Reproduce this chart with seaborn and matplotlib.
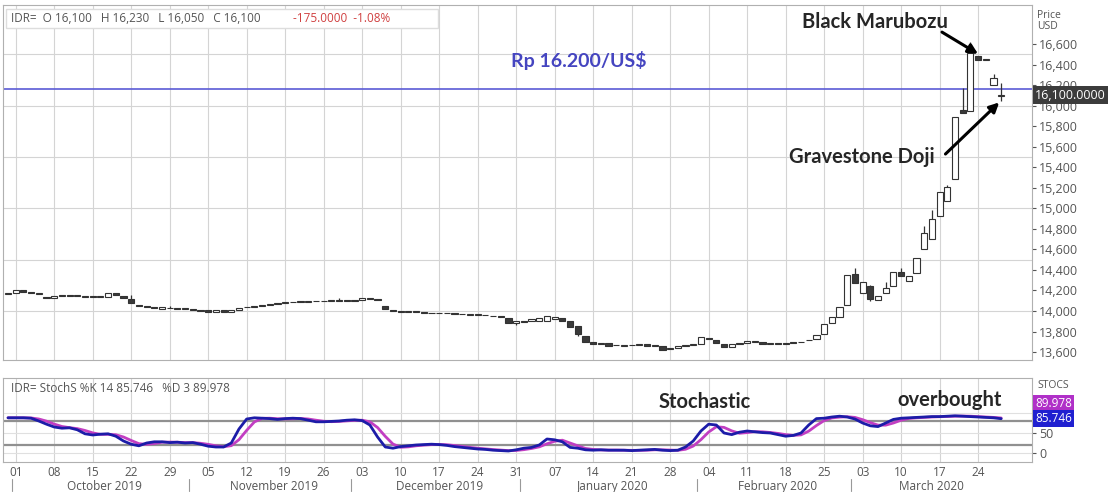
import matplotlib
matplotlib.use("Agg")
import matplotlib.pyplot as plt
import seaborn as sns
import numpy as np
import pandas as pd

dates = pd.bdate_range("2019-09-30", "2020-03-27")

opens = [
    14170, 14180, 14200, 14180, 14170, 14140, 14130, 14150, 14160, 14150,
    14140, 14150, 14140, 14140, 14175, 14150, 14120, 14060, 14050, 14040,
    14020, 14030, 14030, 14020, 14020, 14010, 14010, 13990, 14010, 13995,
    14010, 14040, 14040, 14050, 14060, 14070, 14080, 14090, 14090, 14090,
    14095, 14100, 14100, 14100, 14110, 14100, 14110, 14120, 14120, 14050,
    14010, 14000, 13995, 14000, 13990, 13985, 13980, 13985, 13980, 13975,
    13965, 13965, 13960, 13955, 13950, 13930, 13880, 13900, 13900, 13900,
    13900, 13920, 13935, 13900, 13850, 13760, 13700, 13680, 13690, 13665,
    13665, 13665, 13670, 13680, 13660, 13660, 13630, 13640, 13660, 13665,
    13680, 13740, 13720, 13680, 13650, 13680, 13690, 13700, 13700, 13680,
    13690, 13685, 13700, 13695, 13715, 13730, 13780, 13880, 13940, 14060,
    14360, 14180, 14240, 14110, 14180, 14240, 14380, 14290, 14370, 14600,
    14700, 14930, 15070, 15290, 15960, 15950, 16480, 16450, 16200, 16100]
closes = [
    14180, 14205, 14190, 14175, 14175, 14130, 14150, 14155, 14150, 14160,
    14140, 14135, 14150, 14175, 14160, 14130, 14080, 14050, 14040, 14030,
    14040, 14030, 14020, 14025, 14010, 14000, 13990, 14010, 13990, 14010,
    14030, 14040, 14050, 14060, 14070, 14080, 14090, 14085, 14095, 14100,
    14100, 14095, 14100, 14105, 14100, 14110, 14125, 14120, 14110, 14020,
    14000, 13995, 14005, 13990, 13985, 13980, 13985, 13980, 13975, 13970,
    13970, 13965, 13960, 13950, 13940, 13880, 13900, 13890, 13920, 13930,
    13950, 13940, 13900, 13840, 13780, 13700, 13680, 13690, 13660, 13670,
    13665, 13670, 13680, 13660, 13665, 13620, 13640, 13660, 13670, 13680,
    13750, 13730, 13690, 13650, 13680, 13690, 13710, 13710, 13680, 13690,
    13680, 13675, 13690, 13700, 13720, 13770, 13870, 13940, 14040, 14350,
    14270, 14280, 14120, 14150, 14220, 14380, 14340, 14340, 14520, 14760,
    14900, 15160, 15210, 15890, 15930, 16510, 16440, 16450, 16270, 16100]
# wicks that reach beyond the body
wick_high = {16: 14160, 21: 14050, 43: 14125, 110: 14420, 112: 14250, 114: 14280,
             116: 14420, 119: 14830, 120: 14980, 122: 15230, 124: 16170,
             125: 16620, 126: 16480, 128: 16310, 129: 16220}
wick_low = {112: 14100, 129: 16050, 66: 13860, 74: 13760}

stoch_k = [
    88, 88, 88, 87, 80, 72, 65, 62, 63, 58, 48, 45, 47, 48, 42, 30, 22, 18, 25, 28,
    28, 26, 27, 25, 26, 22, 17, 15, 15, 25, 60, 85, 88, 87, 86, 84, 86, 87, 86, 82,
    78, 78, 79, 80, 82, 83, 81, 70, 40, 15, 12, 16, 18, 20, 21, 22, 21, 19, 16, 14,
    12, 10, 9, 7, 6, 5, 8, 12, 14, 20, 35, 33, 28, 14, 12, 8, 7, 8, 7, 7,
    7, 6, 7, 8, 9, 7, 6, 7, 15, 30, 55, 72, 70, 50, 46, 52, 55, 53, 51, 50,
    46, 42, 44, 50, 70, 86, 87, 90, 92, 90, 85, 75, 68, 66, 75, 84, 87, 88, 89, 90,
    91, 91, 92, 93, 92, 91, 90, 89, 88, 85.746]

price_ticks = list(range(13600, 16601, 200))
price_grid = list(range(14000, 16501, 500))

df = pd.DataFrame({"date": dates, "open": opens, "close": closes, "k": stoch_k})
df["i"] = np.arange(len(df))
df["d"] = df["k"].rolling(3, min_periods=1).mean()

sns.set_style("white")
plt.rcParams["font.family"] = ["Open Sans", "DejaVu Sans"]
BOLD = dict(family="Lato", fontweight="bold", fontsize=14.5, ha="center", va="center")

fig = plt.figure(figsize=(11.14, 4.92), dpi=100)
ax1 = fig.add_axes([3 / 1114, 1 - 360 / 492, 1029 / 1114, 355 / 492])
ax2 = fig.add_axes([3 / 1114, 1 - 462 / 492, 1029 / 1114, 84 / 492])

tick_idx = df.index[df["date"].dt.weekday == 1]
month_start = df.groupby(df["date"].dt.to_period("M"))["i"].min()

for ax in (ax1, ax2):
    ax.set_xlim(-0.65, 133)
    for t in tick_idx:
        ax.axvline(t, color="#d4d4d4", lw=0.8, zorder=0)
    for s in ax.spines.values():
        s.set_color("#b0b0b0")
    ax.yaxis.tick_right()
    ax.tick_params(axis="y", colors="#555555", labelsize=9, length=3, pad=2)
    ax.set_xticks([])

# candles
lo_b = np.minimum(df["open"], df["close"])
hi_b = np.maximum(df["open"], df["close"])
heights = np.maximum(hi_b - lo_b, 6)
faces = ["white" if c >= o else "#3a3a3a" for o, c in zip(opens, closes)]
for i, (lo, hi) in enumerate(zip(lo_b, hi_b)):
    top = wick_high.get(i, hi)
    bot = wick_low.get(i, lo)
    ax1.vlines(i, bot, top, color="#333333", lw=0.9, zorder=2)
ax1.bar(df["i"], heights, bottom=lo_b - (heights - (hi_b - lo_b)) / 2, width=0.8,
        color=faces, edgecolor="#333333", lw=0.8, zorder=3)

ax1.set_ylim(13523, 16980)
ax1.set_yticks(price_ticks)
ax1.set_yticklabels([f"{p:,}" for p in price_ticks])
for p in price_grid:
    ax1.axhline(p, color="#d4d4d4", lw=0.8, zorder=0)
ax1.axhline(16160, color="#5b5bd6", lw=1.2, zorder=1)
ax1.text(0.56, 0.845, "Rp 16.200/US$", transform=ax1.transAxes, color="#4545c0",
         fontsize=14, family="Lato", fontweight="bold", ha="center", va="center")
ax1.text(1.005, 0.985, "Price\nUSD", transform=ax1.transAxes, fontsize=7.5,
         color="#555555", va="top", linespacing=0.95)
ax1.text(1.003, 16100, "16,100.0000", transform=ax1.get_yaxis_transform(),
         fontsize=9, color="white", va="center", zorder=10,
         bbox=dict(boxstyle="square,pad=0.2", fc="#3c3c3c", ec="none"))

# header
ax1.add_patch(plt.Rectangle((0.003, 0.935), 0.42, 0.055, transform=ax1.transAxes,
                            fc="white", ec="#dddddd", zorder=5))
ax1.text(0.008, 0.962, "IDR=  O 16,100   H 16,230   L 16,050   C 16,100",
         transform=ax1.transAxes, fontsize=8.5, color="#555555", va="center", zorder=6)
ax1.text(0.282, 0.962, "-175.0000  -1.08%", transform=ax1.transAxes, fontsize=8.5,
         color="#d04040", va="center", zorder=6)

fig.text(875 / 1114, 1 - 22 / 492, "Black Marubozu", **BOLD)
fig.text(862 / 1114, 1 - 157 / 492, "Gravestone Doji", **BOLD)
ax1.annotate("", xy=(126.3, 16490), xytext=(121, 16730),
             arrowprops=dict(arrowstyle="-|>", color="black", lw=2.2, mutation_scale=14))
ax1.annotate("", xy=(129, 16050), xytext=(121.5, 15510),
             arrowprops=dict(arrowstyle="-|>", color="black", lw=2.2, mutation_scale=14))

# stochastic
sns.lineplot(data=df, x="i", y="d", ax=ax2, color="#c23ec2", lw=2)
sns.lineplot(data=df, x="i", y="k", ax=ax2, color="#1c1ca8", lw=2)
ax2.set_ylim(-22.5, 187.5)
ax2.set_yticks([0, 50])
for lv in (20, 80):
    ax2.axhline(lv, color="#909090", lw=1.6, zorder=0)
for lv in (0, 50, 100):
    ax2.axhline(lv, color="#e0e0e0", lw=0.8, zorder=0)
ax2.set_xlabel("")
ax2.set_ylabel("")
ax2.text(1.005, 0.88, "STOCS", transform=ax2.transAxes, fontsize=7.5, color="#555555")
ax2.text(1.003, 124, "89.978", transform=ax2.get_yaxis_transform(), fontsize=8.5,
         color="white", va="center", bbox=dict(boxstyle="square,pad=0.2", fc="#b030c8", ec="none"))
ax2.text(1.003, 86, "85.746", transform=ax2.get_yaxis_transform(), fontsize=8.5,
         color="white", va="center", bbox=dict(boxstyle="square,pad=0.2", fc="#2020d0", ec="none"))
ax2.text(0.008, 0.87, "IDR= StochS %K 14 85.746   %D 3 89.978", transform=ax2.transAxes,
         fontsize=8.5, color="#555555", va="center")
fig.text(705 / 1114, 1 - 402 / 492, "Stochastic", **BOLD)
fig.text(950 / 1114, 1 - 400 / 492, "overbought", **BOLD)

# date axis
ax2.set_xticks(tick_idx)
ax2.set_xticklabels([d.strftime("%d") for d in df.loc[tick_idx, "date"]])
ax2.tick_params(axis="x", labelsize=8.5, colors="#555555", length=3, pad=0)
ends = list(month_start.values[1:]) + [len(df)]
for (per, st), en in zip(month_start.items(), ends):
    if en - st < 3:
        continue
    ax2.text((st + en) / 2, -0.29, per.strftime("%B %Y"), transform=ax2.get_xaxis_transform(),
             ha="center", va="center", fontsize=8.5, color="#555555")
    ax2.plot([st - 0.5, st - 0.5], [-0.2, -0.34], transform=ax2.get_xaxis_transform(),
             color="#999999", lw=0.8, clip_on=False)

fig.savefig("out.png", dpi=100)
